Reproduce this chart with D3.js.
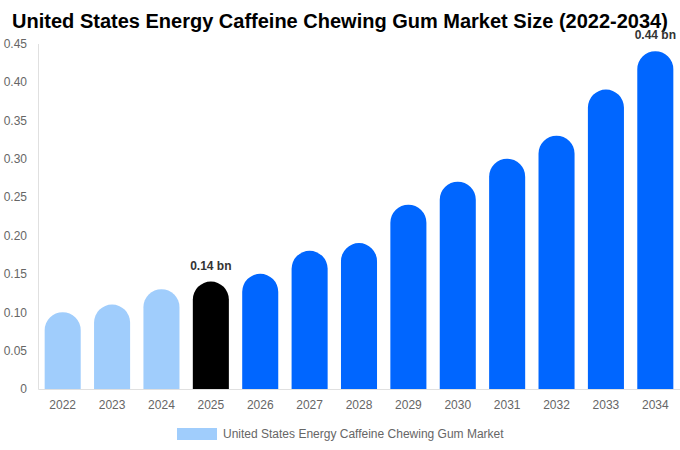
<!DOCTYPE html>
<html>
<head>
<meta charset="utf-8">
<script src="https://cdn.jsdelivr.net/npm/d3@7"></script>
<style>
  body { margin: 0; background: #fff; }
  svg { font-family: "Liberation Sans", Arial, sans-serif; }
</style>
</head>
<body>
<div id="chart"></div>
<script>
const YEARS = ["2022", "2023", "2024", "2025", "2026", "2027", "2028", "2029", "2030", "2031", "2032", "2033", "2034"];
const VALUES = [0.10, 0.11, 0.13, 0.14, 0.15, 0.18, 0.19, 0.24, 0.27, 0.30, 0.33, 0.39, 0.44];
const Y_TICKS = [0, 0.05, 0.10, 0.15, 0.20, 0.25, 0.30, 0.35, 0.40, 0.45];
const LABELLED = { "2025": "0.14 bn", "2034": "0.44 bn" };

const W = 680, H = 450;
const M = { top: 43.5, right: 0, bottom: 61, left: 38 };

const COL_PAST = "#a0cdfc";
const COL_NOW = "#000000";
const COL_FUT = "#0066ff";

function barColor(year) {
  if (+year < 2025) return COL_PAST;
  if (+year === 2025) return COL_NOW;
  return COL_FUT;
}

const svg = d3.select("#chart").append("svg")
  .attr("width", W).attr("height", H);

const x = d3.scaleBand()
  .domain(YEARS)
  .range([M.left, W - M.right])
  .paddingInner(0.27)
  .paddingOuter(0.135);

const y = d3.scaleLinear()
  .domain([0, 0.45])
  .range([H - M.bottom, M.top]);

// title
svg.append("text")
  .attr("x", W / 2).attr("y", 28)
  .attr("text-anchor", "middle")
  .style("font-size", "20px")
  .style("font-weight", "700")
  .style("fill", "#000")
  .text("United States Energy Caffeine Chewing Gum Market Size (2022-2034)");

// y axis
const yAxis = svg.append("g")
  .attr("transform", `translate(${M.left},0)`)
  .call(d3.axisLeft(y).tickValues(Y_TICKS).tickSize(0).tickPadding(11)
    .tickFormat(d => d === 0 ? "0" : d3.format(".2f")(d)));
yAxis.select(".domain").attr("stroke", "#e0e0e0");
yAxis.selectAll("text").style("font-size", "12px").style("fill", "#666")
  .style("font-family", "'Liberation Sans', Arial, sans-serif");

// x axis
const xAxis = svg.append("g")
  .attr("transform", `translate(0,${H - M.bottom})`)
  .call(d3.axisBottom(x).tickSize(0).tickPadding(11));
xAxis.select(".domain").attr("stroke", "#e0e0e0");
xAxis.selectAll("text").style("font-size", "12px").style("fill", "#666")
  .style("font-family", "'Liberation Sans', Arial, sans-serif");

// bars with round tops
function barPath(d, i) {
  const x0 = x(YEARS[i]);
  const w = x.bandwidth();
  const r = w / 2;
  const yb = y(0);
  const yt = y(d);
  return `M${x0},${yb} L${x0},${yt + r} A${r},${r} 0 0 1 ${x0 + w},${yt + r} L${x0 + w},${yb} Z`;
}

svg.append("g")
  .selectAll("path")
  .data(VALUES)
  .join("path")
  .attr("d", barPath)
  .attr("fill", (d, i) => barColor(YEARS[i]));

// value labels
svg.append("g")
  .selectAll("text")
  .data(YEARS.filter(yr => LABELLED[yr]))
  .join("text")
  .attr("x", yr => x(yr) + x.bandwidth() / 2)
  .attr("y", yr => y(VALUES[YEARS.indexOf(yr)]) - 12)
  .attr("text-anchor", "middle")
  .style("font-size", "12px")
  .style("font-weight", "700")
  .style("fill", "#333")
  .text(yr => LABELLED[yr]);

// legend
const lg = svg.append("g").attr("transform", "translate(177,428)");
lg.append("rect").attr("width", 40).attr("height", 12).attr("fill", COL_PAST);
lg.append("text")
  .attr("x", 46).attr("y", 10)
  .style("font-size", "12px")
  .style("fill", "#666")
  .text("United States Energy Caffeine Chewing Gum Market");
</script>
</body>
</html>
